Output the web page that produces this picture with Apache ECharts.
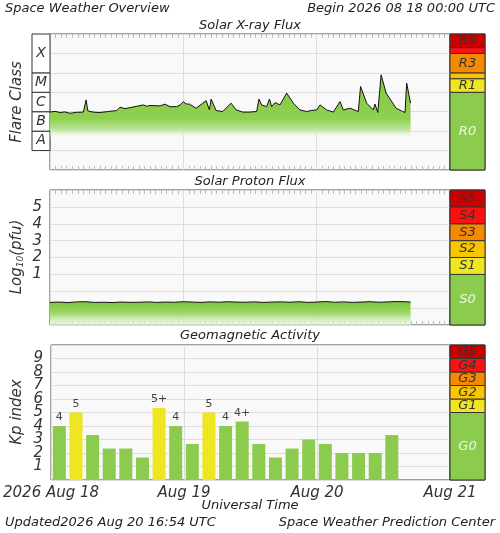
<!DOCTYPE html>
<html><head><meta charset="utf-8">
<script src="https://cdn.jsdelivr.net/npm/echarts@6/dist/echarts.min.js"></script>
<style>html,body{margin:0;padding:0;background:#fff}#c{width:500px;height:533px}</style>
</head><body><div id="c"></div>
<script>
// X-ray flux: [hours since 2026-08-18 00:00, log10(W/m2)]
const xrayHours = [0,0.9,1.8,2.7,3.6,4.8,6,6.5,6.8,7.2,8.1,9,10.5,12,12.6,13.5,14.4,15.6,16.8,17.4,18,19.8,20.7,21.6,22.8,23.4,24,24.5,25.1,26.3,27.5,28.1,28.7,29,29.9,31.1,32.6,33.5,34.7,35.9,37.2,37.6,38.1,39,39.5,39.9,40.5,41.4,42.6,43.8,45,46.2,47.1,48,48.6,49.8,51,52.2,52.8,54,55.5,55.9,57,58.2,58.5,59,59.6,60.5,62.3,63.5,63.9,64.2,64.9];
const xrayLog = [-6.02,-5.98,-6.04,-6.01,-6.08,-6.03,-6.02,-5.39,-5.95,-5.99,-6.03,-6.04,-5.99,-5.94,-5.77,-5.84,-5.79,-5.72,-5.65,-5.72,-5.68,-5.70,-5.61,-5.74,-5.74,-5.66,-5.48,-5.6,-5.61,-5.82,-5.56,-5.43,-5.91,-5.35,-5.94,-5.99,-5.56,-5.91,-6.02,-6.02,-5.99,-5.35,-5.65,-5.74,-5.35,-5.74,-5.53,-5.65,-5.04,-5.56,-5.91,-5.99,-5.93,-5.91,-5.65,-5.91,-6.02,-5.48,-5.91,-5.82,-5.99,-4.70,-5.56,-5.91,-5.61,-6.04,-4.10,-5.04,-5.82,-5.99,-6.04,-4.53,-5.56];
// Proton flux: log10(pfu), sampled every 1.6 h
const protonHours = [0,1.6,3.2,4.8,6.4,8,9.6,11.2,12.8,14.4,16,17.6,19.2,20.8,22.4,24,25.6,27.2,28.8,30.4,32,33.6,35.2,36.8,38.4,40,41.6,43.2,44.8,46.4,48,49.6,51.2,52.8,54.4,56,57.6,59.2,60.8,62.4,64,64.9];
const protonLog = [-0.66,-0.64,-0.67,-0.63,-0.62,-0.66,-0.65,-0.67,-0.64,-0.66,-0.65,-0.63,-0.66,-0.64,-0.65,-0.62,-0.64,-0.66,-0.63,-0.65,-0.62,-0.64,-0.65,-0.63,-0.66,-0.64,-0.63,-0.65,-0.62,-0.66,-0.64,-0.61,-0.65,-0.63,-0.66,-0.64,-0.62,-0.65,-0.63,-0.61,-0.62,-0.64];
// Kp index per 3-hour interval
const kpHours = [1.5,4.5,7.5,10.5,13.5,16.5,19.5,22.5,25.5,28.5,31.5,34.5,37.5,40.5,43.5,46.5,49.5,52.5,55.5,58.5,61.5];
const kpValues = [4,5,3.33,2.33,2.33,1.67,5.33,4,2.67,5,4,4.33,2.67,1.67,2.33,3,2.67,2,2,2,3.33];
const kpLabels = ['4','5','','','','','5+','4','','5','4','4+','','','','','','','','',''];
const dayLabels = {0:'2026 Aug 18',24:'Aug 19',48:'Aug 20',72:'Aug 21'};
const flareClasses = [['A',-8,-7],['B',-7,-6],['C',-6,-5],['M',-5,-4],['X',-4,-2]];
const rScale = [['R0',-9,-5,'#8bcc4f'],['R1',-5,-4.3,'#eee620'],['',-4.3,-4,'#f9c400'],['R3',-4,-3,'#f58a00'],['',-3,-2.7,'#ff1010'],['R5',-2.7,-2,'#cc0000']];
const sScale = [['S0',-2,1,'#8bcc4f'],['S1',1,2,'#eee620'],['S2',2,3,'#f9c400'],['S3',3,4,'#f58a00'],['S4',4,5,'#ff1010'],['S5',5,6,'#cc0000']];
const gScale = [['G0',0,5,'#8bcc4f'],['G1',5,6,'#eee620'],['G2',6,7,'#f9c400'],['G3',7,8,'#f58a00'],['G4',8,9,'#ff1010'],['G5',9,10,'#cc0000']];

const F = 'DejaVu Sans';
const ch = echarts.init(document.getElementById('c'));
const grids = [
 {left:50,width:400,top:34,height:136},
 {left:32,width:18,top:34,height:136},
 {left:450,width:35,top:34,height:136},
 {left:50,width:400,top:190,height:135},
 {left:450,width:35,top:190,height:135},
 {left:50,width:400,top:345,height:135},
 {left:450,width:35,top:345,height:135}
].map(g=>Object.assign({show:true,borderColor:'#444',borderWidth:1,backgroundColor:'#f9f9f9'},g));
grids[1].show=false;
function mainX(i,labels){return {gridIndex:i,type:'value',min:0,max:72,interval:24,
 axisLine:{show:false,onZero:false},axisTick:{show:false},minorTick:{show:false},
 splitLine:{show:true,lineStyle:{color:'#ddd'}},
 axisLabel:{show:labels,fontFamily:F,fontStyle:'italic',fontSize:15,color:'#333',margin:6,formatter:v=>dayLabels[v]||'' ,showMaxLabel:true}};}
function topX(i){return {gridIndex:i,type:'value',min:0,max:72,interval:24,position:'top',
 axisLine:{show:false,onZero:false},axisLabel:{show:false},splitLine:{show:false},
 axisTick:{show:true,inside:true,length:0},minorTick:{show:true,splitNumber:24,length:4,lineStyle:{color:'#bbb'}}};}
function botX(i){const a=topX(i);a.position='bottom';return a;}
function sideX(i){return {gridIndex:i,type:'value',min:0,max:1,show:false};}
function yAx(i,min,max,interval,show,fmt){return {gridIndex:i,type:'value',min,max,interval,
 axisLine:{show:false,onZero:false},axisTick:{show:false},
 splitLine:{show:show,lineStyle:{color:'#ddd'}},
 axisLabel:{show:!!fmt,fontFamily:F,fontStyle:'italic',fontSize:15,color:'#333',margin:8,formatter:fmt}};}
const xAxis=[mainX(0,false),sideX(1),sideX(2),mainX(3,false),sideX(4),mainX(5,true),sideX(6),
 topX(0),botX(0),topX(3),botX(3)];
const yAxis=[yAx(0,-9,-2,1,true),yAx(1,-9,-2,1,false),yAx(2,-9,-2,1,false),
 yAx(3,-2,6,1,true,v=>(v>=1&&v<=5)?String(v):''),yAx(4,-2,6,1,false),
 yAx(5,0,10,1,true,v=>(v>=1&&v<=9)?String(v):''),yAx(6,0,10,1,false)];
yAxis.push(yAx(0,-9,-2,1,false),yAx(0,-9,-2,1,false),yAx(3,-2,6,1,false),yAx(3,-2,6,1,false));
function scaleSeries(xi,yi,scale,fill,fs){
 return {type:'line',xAxisIndex:xi,yAxisIndex:yi,data:[[0.5,scale[0][1]]],symbol:'none',lineStyle:{opacity:0},silent:true,
  markArea:{silent:true,data:scale.map(s=>[{xAxis:0,yAxis:s[1],name:s[0],itemStyle:{color:fill?fill:s[3],borderColor:'#333',borderWidth:1},
   label:{show:true,position:'inside',fontFamily:F,fontStyle:'italic',fontSize:fs,color:(s[0]==='R0'||s[0]==='S0'||s[0]==='G0')?'#eef6e6':'#333'}},{yAxis:s[2],xAxis:1}])}};
}
const grad=(stops)=>new echarts.graphic.LinearGradient(0,0,0,1,stops);
const series=[
 {type:'line',xAxisIndex:0,yAxisIndex:0,data:xrayHours.map((h,i)=>[h,xrayLog[i]]),symbol:'none',
  lineStyle:{color:'#111',width:1},areaStyle:{origin:'start',opacity:1,color:grad([{offset:0,color:'#84c83e'},{offset:0.46,color:'#8fd050'},{offset:0.57,color:'#b8e398'},{offset:0.68,color:'rgba(255,255,255,0)'}])}},
 scaleSeries(1,1,flareClasses,'#fff',14),
 scaleSeries(2,2,rScale,null,13),
 {type:'line',xAxisIndex:3,yAxisIndex:3,data:protonHours.map((h,i)=>[h,protonLog[i]]),symbol:'none',
  lineStyle:{color:'#111',width:1},areaStyle:{origin:'start',opacity:1,color:grad([{offset:0,color:'#7cc43a'},{offset:0.5,color:'#9fd868'},{offset:1,color:'rgba(235,248,225,0.6)'}])}},
 scaleSeries(4,4,sScale,null,13),
 {type:'bar',xAxisIndex:5,yAxisIndex:5,barWidth:13,
  data:kpHours.map((h,i)=>({value:[h,kpValues[i]],itemStyle:{color:kpValues[i]>=5?'#eee620':'#8bcc4f'},
   label:{show:kpLabels[i]!=='',formatter:kpLabels[i],position:'top',distance:3,fontFamily:F,fontSize:11,color:'#444'}}))},
 scaleSeries(6,6,gScale,null,13),
 {type:'line',xAxisIndex:7,yAxisIndex:7,data:[]},{type:'line',xAxisIndex:8,yAxisIndex:8,data:[]},
 {type:'line',xAxisIndex:9,yAxisIndex:9,data:[]},{type:'line',xAxisIndex:10,yAxisIndex:10,data:[]}
];
const T=(t,x,y,align)=>({type:'text',x,y,style:{text:t,fontFamily:F,fontStyle:'italic',fontSize:13,fill:'#222',align:align||'left'}});
ch.setOption({animation:false,grid:grids,xAxis,yAxis,series,
 graphic:[
  T('Space Weather Overview',5,2),
  T('Begin 2026 08 18 00:00 UTC',495,2,'right'),
  T('Solar X-ray Flux',250,19,'center'),
  T('Solar Proton Flux',250,175,'center'),
  T('Geomagnetic Activity',250,329,'center'),
  T('Universal Time',250,499,'center'),
  T('Updated2026 Aug 20 16:54 UTC',5,516),
  T('Space Weather Prediction Center',495,516,'right'),
  {type:'text',x:17,y:102,rotation:Math.PI/2,style:{text:'Flare Class',fontFamily:F,fontStyle:'italic',fontSize:15,fill:'#333',align:'center',verticalAlign:'middle'}},
  {type:'text',x:17,y:257,rotation:Math.PI/2,style:{text:'{a|Log}{s|10}{a|(pfu)}',rich:{a:{fontFamily:F,fontStyle:'italic',fontSize:15,fill:'#333'},s:{fontFamily:F,fontStyle:'italic',fontSize:9,fill:'#333',padding:[8,0,0,0]}},align:'center',verticalAlign:'middle'}},
  {type:'text',x:17,y:412,rotation:Math.PI/2,style:{text:'Kp index',fontFamily:F,fontStyle:'italic',fontSize:15,fill:'#333',align:'center',verticalAlign:'middle'}}
 ]});
</script></body></html>
